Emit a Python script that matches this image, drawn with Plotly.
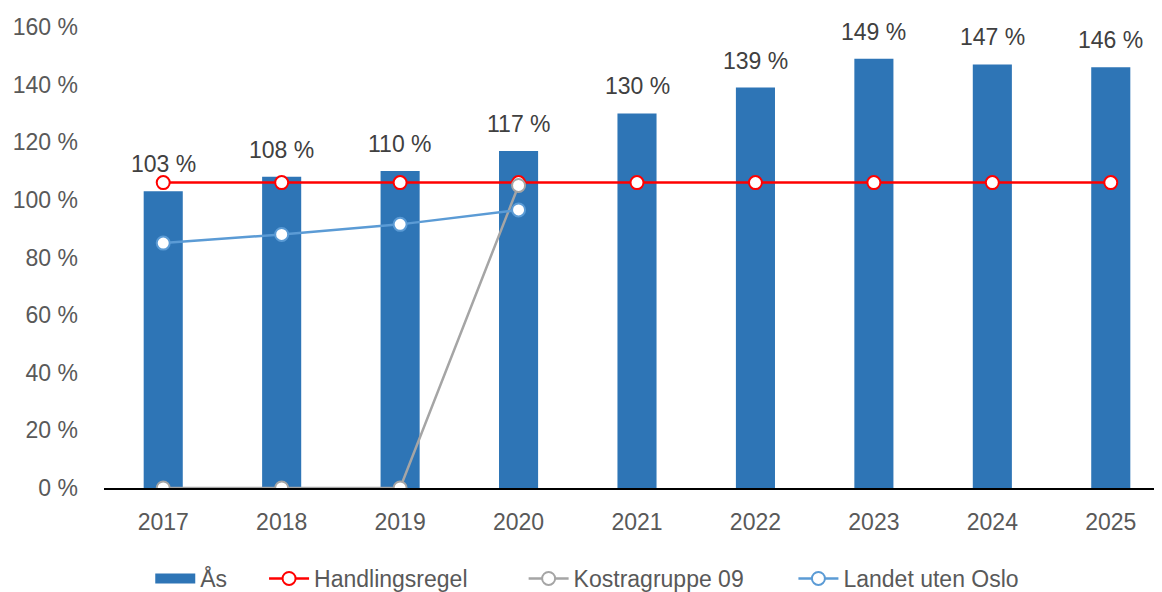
import plotly.graph_objects as go

years = ["2017", "2018", "2019", "2020", "2021", "2022", "2023", "2024", "2025"]
aas = [103, 108, 110, 117, 130, 139, 149, 147, 146]
handlingsregel = [106, 106, 106, 106, 106, 106, 106, 106, 106]
kostra_years = ["2017", "2018", "2019", "2020"]
kostra = [0, 0, 0, 105]
landet_years = ["2017", "2018", "2019", "2020"]
landet = [85, 88, 91.5, 96.5]
ytick_vals = [0, 20, 40, 60, 80, 100, 120, 140, 160]
ytick_text = ["0 %", "20 %", "40 %", "60 %", "80 %", "100 %", "120 %", "140 %", "160 %"]
bar_labels = [f"{v} %" for v in aas]

FONT = "Liberation Sans"
FS = 23
BLUE = "#2E75B6"
NB = "\u00a0"
fig = go.Figure()
fig.add_trace(go.Bar(x=years, y=aas, name="Ås", marker=dict(color=BLUE, line=dict(width=0)),
                     width=0.33, showlegend=False))
# legend entry for the bars, drawn as a wide block like the original
fig.add_trace(go.Scatter(x=[None], y=[None], name="Ås" + NB * 5, mode="lines",
                         line=dict(color=BLUE, width=13), showlegend=True))
fig.add_trace(go.Scatter(x=years, y=handlingsregel, name="Handlingsregel" + NB * 8,
                         mode="lines+markers", line=dict(color="#FF0000", width=2.5),
                         marker=dict(size=13, color="white", line=dict(color="#FF0000", width=2))))
fig.add_trace(go.Scatter(x=kostra_years, y=kostra, name="Kostragruppe 09" + NB * 7,
                         mode="lines+markers", line=dict(color="#A5A5A5", width=2.5),
                         marker=dict(size=13, color="white", line=dict(color="#A5A5A5", width=2))))
fig.add_trace(go.Scatter(x=landet_years, y=landet, name="Landet uten Oslo",
                         mode="lines+markers", line=dict(color="#5B9BD5", width=2.5),
                         marker=dict(size=13, color="white", line=dict(color="#5B9BD5", width=2))))

for i, (v, t) in enumerate(zip(aas, bar_labels)):
    fig.add_annotation(x=i, y=v, xref="x", yref="y", text=t, showarrow=False,
                       yanchor="middle", yshift=27,
                       font=dict(family=FONT, size=FS, color="#404040"))

fig.update_layout(
    width=1162, height=592,
    margin=dict(l=96, r=0, t=19, b=101),
    plot_bgcolor="white", paper_bgcolor="white",
    font=dict(family=FONT, size=FS, color="#595959"),
    showlegend=True,
    legend=dict(orientation="h", x=0.0434, xanchor="left", y=-0.15, yanchor="top",
                font=dict(family=FONT, size=FS, color="#595959"),
                traceorder="normal", itemwidth=40, tracegroupgap=0),
    xaxis=dict(type="category", range=[-0.5, 8.5], showgrid=False, showline=True,
               linecolor="#000000", linewidth=1.5, ticks="", ticklabelstandoff=13,
               automargin=False, tickfont=dict(family=FONT, size=FS, color="#595959")),
    yaxis=dict(range=[0, 160], tickvals=ytick_vals, ticktext=ytick_text, showgrid=False,
               zeroline=False, showline=False, ticks="", ticklabelstandoff=25,
               automargin=False, tickfont=dict(family=FONT, size=FS, color="#595959")),
)
fig.write_html("out.html")
